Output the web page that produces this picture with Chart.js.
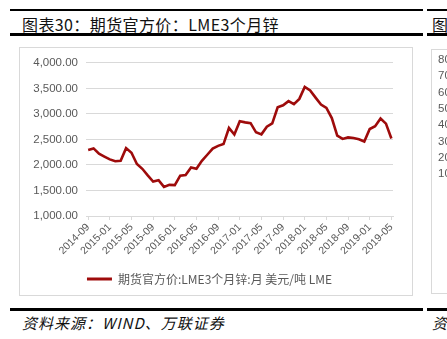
<!DOCTYPE html>
<html>
<head>
<meta charset="utf-8">
<script src="https://cdn.jsdelivr.net/npm/chart.js@4.4.1/dist/chart.umd.min.js"></script>
<style>
  html, body { margin: 0; padding: 0; background: #fff; }
  body { width: 447px; height: 339px; position: relative; overflow: hidden; font-family: "Noto Sans CJK SC", sans-serif; }
  .rule { position: absolute; height: 2px; background: #000; }
  .title { position: absolute; top: 12px; font-size: 16px; color: #111; letter-spacing: 0.4px; white-space: nowrap; }
  .source { position: absolute; top: 312px; font-size: 15px; font-style: italic; color: #111; letter-spacing: 1px; white-space: nowrap; }
  .box { position: absolute; border: 1px solid #d9d9d9; overflow: hidden; }
</style>
</head>
<body>
  <div class="rule" style="left:10px; width:413px; top:9px;"></div>
  <div class="rule" style="left:427px; width:20px; top:9px;"></div>
  <div class="rule" style="left:10px; width:413px; top:33px; height:3px;"></div>
  <div class="rule" style="left:427px; width:20px; top:33px; height:3px;"></div>
  <div class="title" style="left:22px;">图表30：期货官方价：LME3个月锌</div>
  <div class="title" style="left:432px;">图</div>

  <div class="box" style="left:19px; top:47px; width:392px; height:247px;">
    <canvas id="zincChart" width="392" height="247"></canvas>
  </div>
  <div class="box" style="left:431px; top:49px; width:40px; height:243px;">
    <canvas id="nextChart" width="300" height="243"></canvas>
  </div>

  <div class="rule" style="left:10px; width:413px; top:308px; height:3px;"></div>
  <div class="rule" style="left:427px; width:20px; top:308px; height:3px;"></div>
  <div class="source" style="left:22px;">资料来源：WIND、万联证券</div>
  <div class="source" style="left:432px;">资</div>

<script>
// LME 3-month zinc, monthly, USD/t
const months = [
  "2014-09", "2014-10", "2014-11", "2014-12",
  "2015-01", "2015-02", "2015-03", "2015-04", "2015-05", "2015-06", "2015-07", "2015-08", "2015-09", "2015-10", "2015-11", "2015-12",
  "2016-01", "2016-02", "2016-03", "2016-04", "2016-05", "2016-06", "2016-07", "2016-08", "2016-09", "2016-10", "2016-11", "2016-12",
  "2017-01", "2017-02", "2017-03", "2017-04", "2017-05", "2017-06", "2017-07", "2017-08", "2017-09", "2017-10", "2017-11", "2017-12",
  "2018-01", "2018-02", "2018-03", "2018-04", "2018-05", "2018-06", "2018-07", "2018-08", "2018-09", "2018-10", "2018-11", "2018-12",
  "2019-01", "2019-02", "2019-03", "2019-04", "2019-05"
];
const zincPrice = [
  2292, 2324, 2220, 2165,
  2110, 2072, 2082, 2330, 2240, 2020, 1925, 1795, 1675, 1700, 1570, 1610,
  1605, 1790, 1805, 1950, 1925, 2080, 2200, 2320, 2375, 2410, 2725, 2595,
  2855, 2835, 2820, 2640, 2600, 2750, 2815, 3130, 3170, 3250, 3190, 3295,
  3530, 3460, 3320, 3185, 3120, 2920, 2575, 2510, 2540, 2528, 2505, 2460,
  2705, 2760, 2910, 2810, 2520
];
// a label every four months
const tickMonths = [0, 4, 8, 12, 16, 20, 24, 28, 32, 36, 40, 44, 48, 52, 56];
const seriesName = "期货官方价:LME3个月锌:月 美元/吨 LME";

const lineColor = "#9e0b0b";
const gridColor = "#d9d9d9";
const labelColor = "#595959";

const ctx = document.getElementById("zincChart").getContext("2d");
new Chart(ctx, {
  type: "line",
  data: {
    datasets: [
      {
        label: seriesName,
        data: zincPrice.map((v, i) => ({ x: i, y: v })),
        borderColor: lineColor,
        backgroundColor: lineColor,
        borderWidth: 2.6,
        pointRadius: 0,
        tension: 0,
      },
    ],
  },
  options: {
    responsive: false,
    animation: false,
    layout: { padding: { left: 6, right: 19, top: 14, bottom: 0 } },
    scales: {
      x: {
        type: "linear",
        min: -0.4,
        max: 56.3,
        afterBuildTicks: (scale) => {
          scale.ticks = tickMonths.map((v) => ({ value: v }));
        },
        afterFit: (scale) => {
          scale.height = 51;
        },
        grid: { drawOnChartArea: false, color: gridColor, tickLength: 4 },
        border: { color: gridColor },
        ticks: {
          color: labelColor,
          font: { family: "Liberation Sans", size: 10.5 },
          maxRotation: 45,
          minRotation: 45,
          padding: 1,
          autoSkip: false,
          callback: (v) => months[v],
        },
      },
      y: {
        min: 1000,
        max: 4000,
        afterFit: (scale) => {
          scale.width = 60;
        },
        grid: { color: gridColor, drawTicks: false, lineWidth: 1 },
        border: { display: false },
        ticks: {
          stepSize: 500,
          color: labelColor,
          padding: 8,
          font: { family: "Liberation Sans", size: 11.5 },
          callback: (v) => v.toLocaleString("en-US", { minimumFractionDigits: 2, maximumFractionDigits: 2 }),
        },
      },
    },
    plugins: {
      legend: {
        position: "bottom",
        labels: {
          boxWidth: 25,
          boxHeight: 3,
          padding: 6,
          color: labelColor,
          font: { family: "Noto Sans CJK SC", size: 12 },
          // flat swatch, no outline around it
          generateLabels: (chart) =>
            Chart.defaults.plugins.legend.labels.generateLabels(chart).map((item) => ({ ...item, lineWidth: 0 })),
        },
      },
      tooltip: { enabled: false },
    },
  },
});

// neighbouring panel, cut off at the page edge
const nextCtx = document.getElementById("nextChart").getContext("2d");
new Chart(nextCtx, {
  type: "line",
  data: { labels: [], datasets: [] },
  options: {
    responsive: false,
    animation: false,
    layout: { padding: { left: 6, top: 0, bottom: 119 } },
    scales: {
      x: { display: false },
      y: {
        min: 10,
        max: 80,
        grid: { display: false },
        border: { display: false },
        ticks: {
          stepSize: 10,
          autoSkip: false,
          color: labelColor,
          crossAlign: "far",
          font: { family: "Liberation Sans", size: 11.5 },
        },
      },
    },
    plugins: { legend: { display: false }, tooltip: { enabled: false } },
  },
});
</script>
</body>
</html>
